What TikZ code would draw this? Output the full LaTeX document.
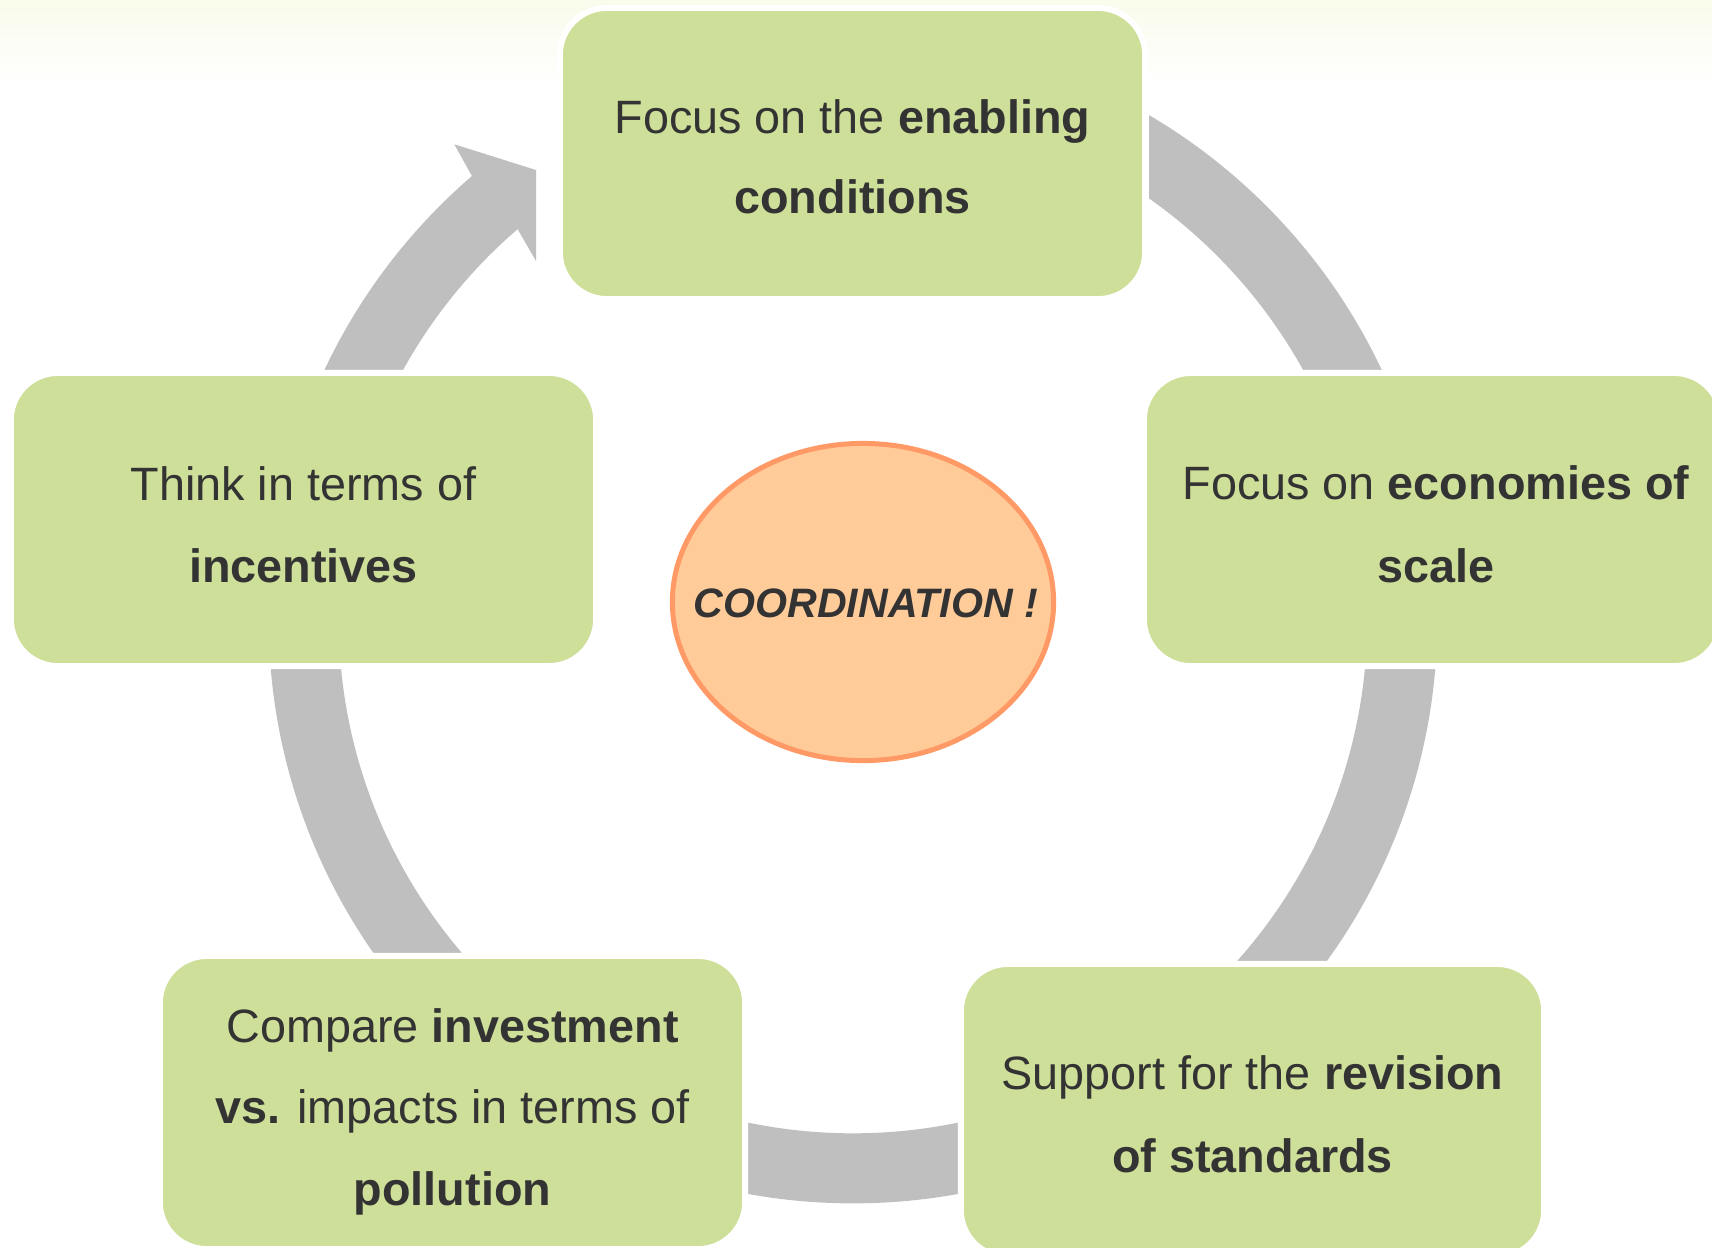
\documentclass[tikz,border=0pt]{standalone}
\usepackage{fontspec}
\setmainfont{Liberation Sans}
\usetikzlibrary{shapes.geometric,calc}
\definecolor{boxgreen}{RGB}{206,223,153}
\definecolor{ringgray}{RGB}{191,191,191}
\definecolor{txt}{RGB}{51,51,51}
\definecolor{ellfill}{RGB}{255,204,153}
\definecolor{elldraw}{RGB}{255,153,102}
\definecolor{bgtop}{RGB}{249,251,235}
\begin{document}
\begin{tikzpicture}[x=0.01cm,y=-0.01cm,
  stepbox/.style={rectangle, rounded corners=0.47cm, fill=boxgreen, draw=white,
    line width=0.06cm, inner sep=0pt, minimum height=2.93cm, minimum width=5.85cm},
  linetxt/.style={anchor=base, inner sep=0pt, text=txt,
    font=\fontsize{13.3pt}{22.8pt}\selectfont},
  ringfill/.style={fill=ringgray, even odd rule}]
\useasboundingbox (0,0) rectangle (1712,1247);
\fill[white] (0,0) rectangle (1712,1247);
\shade[top color=bgtop, bottom color=white] (0,0) rectangle (1712,85);

\coordinate (C) at (853,619);

% ring segments
\begin{scope}
  \clip (1149,0) rectangle (1712,371);
  \fill[ringfill] (C) circle[radius=5.84cm] (C) circle[radius=5.14cm];
\end{scope}
\begin{scope}
  \clip (853,669) rectangle (1712,961);
  \fill[ringfill] (C) circle[radius=5.84cm] (C) circle[radius=5.14cm];
\end{scope}
\begin{scope}
  \clip (748,619) rectangle (958,1247);
  \fill[ringfill] (C) circle[radius=5.84cm] (C) circle[radius=5.14cm];
\end{scope}
\begin{scope}
  \clip (0,669) rectangle (853,953);
  \fill[ringfill] (C) circle[radius=5.84cm] (C) circle[radius=5.14cm];
\end{scope}
% arrow segment with head
\coordinate (headouter) at (454.3,144.3);
\coordinate (headtip) at (536,170);
\coordinate (headinner) at (536,261);
\fill[ringgray] ($(C)+(154.76:5.84cm)$) arc[start angle=154.76, end angle=130.7, radius=5.84cm]
  -- (headouter) -- (headtip) -- (headinner)
  -- ($(C)+(130.7:5.14cm)$) arc[start angle=130.7, end angle=151.02, radius=5.14cm] -- cycle;

% boxes
\node[stepbox, minimum height=2.91cm] (b1) at (852.5,153.5) {};
\node[stepbox] (b2) at (303.5,519.5) {};
\node[stepbox, minimum width=5.77cm] (b3) at (1432.5,519.5) {};
\node[stepbox] (b4) at (452.5,1102.5) {};
\node[stepbox, minimum width=5.83cm] (b5) at (1252.5,1110.5) {};

% centre ellipse
\node[ellipse, fill=ellfill, draw=elldraw, line width=0.05cm, inner sep=0pt,
  minimum width=3.81cm, minimum height=3.17cm] (e) at (863,602) {};
\node[anchor=base, inner sep=0pt, text=txt,
  font=\fontsize{11.7pt}{14pt}\selectfont\bfseries\itshape] (et) at (866,617) {COORDINATION !};

% texts
\node[linetxt] (t1a) at (852.5,133) {Focus on the \textbf{enabling}};
\node[linetxt] (t1b) at (852.5,213) {\textbf{conditions}};
\node[linetxt] (t2a) at (303.5,500) {Think in terms of};
\node[linetxt] (t2b) at (303.5,582) {\textbf{incentives}};
\node[linetxt] (t3a) at (1436,499) {Focus on \textbf{economies of}};
\node[linetxt] (t3b) at (1436,582) {\textbf{scale}};
\node[linetxt] (t4a) at (452.5,1042) {Compare \textbf{investment}};
\node[linetxt] (t4b) at (452.5,1123) {\textbf{vs.} impacts in terms of};
\node[linetxt] (t4c) at (452.5,1205) {\textbf{pollution}};
\node[linetxt] (t5a) at (1252.5,1089) {Support for the \textbf{revision}};
\node[linetxt] (t5b) at (1252.5,1172) {\textbf{of standards}};
\end{tikzpicture}
\end{document}
